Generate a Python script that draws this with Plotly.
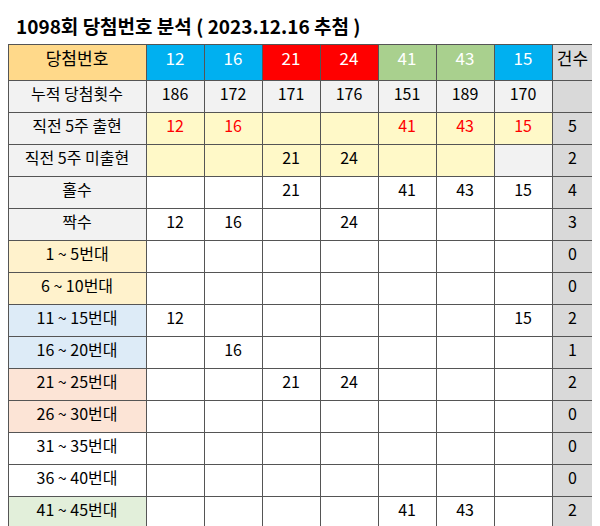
import plotly.graph_objects as go

title = "1098회 당첨번호 분석 ( 2023.12.16 추첨 )"
numbers = [12, 16, 21, 24, 41, 43, 15]
counts = [186, 172, 171, 176, 151, 189, 170]
recent5 = [12, 16, None, None, 41, 43, 15]
not_recent5 = [None, None, 21, 24, None, None, None]
odd = [None, None, 21, None, 41, 43, 15]
even = [12, 16, None, 24, None, None, None]
ranges = ["1 ~ 5번대", "6 ~ 10번대", "11 ~ 15번대", "16 ~ 20번대", "21 ~ 25번대",
          "26 ~ 30번대", "31 ~ 35번대", "36 ~ 40번대", "41 ~ 45번대"]
range_totals = [0, 0, 2, 1, 2, 0, 0, 0, 2]
row_labels = ["누적 당첨횟수", "직전 5주 출현", "직전 5주 미출현", "홀수", "짝수"] + ranges
row_totals = ["", 5, 2, 4, 3] + range_totals

head_colors = ["#00b0f0", "#00b0f0", "#ff0000", "#ff0000", "#a9d08e", "#a9d08e", "#00b0f0"]
label_fill = ["#f2f2f2"] * 5 + ["#fff2cc", "#fff2cc", "#ddebf7", "#ddebf7",
                                 "#fce4d6", "#fce4d6", "#ffffff", "#ffffff", "#e2efda"]

def fmt(v):
    return "" if v is None else str(v)

cols = [row_labels]
fills = [label_fill]
fcolors = [["#000000"] * len(row_labels)]
for i, n in enumerate(numbers):
    vals = [str(counts[i]), fmt(recent5[i]), fmt(not_recent5[i]), fmt(odd[i]), fmt(even[i])]
    for k in range(9):
        vals.append(str(n) if k * 5 < n <= k * 5 + 5 else "")
    cols.append(vals)
    yellow2 = "#fff9c8" if i < 6 else "#f2f2f2"
    fills.append(["#f2f2f2", "#fff9c8", yellow2] + ["#ffffff"] * 11)
    fcolors.append(["#000000", "#ff0000"] + ["#000000"] * 12)
cols.append([str(v) for v in row_totals])
fills.append(["#d9d9d9"] * len(row_labels))
fcolors.append(["#000000"] * len(row_labels))

fig = go.Figure(go.Table(
    domain=dict(x=[0, 585 / 600], y=[0, 1 - 36 / 526]),
    columnwidth=[138] + [58] * 7 + [41],
    header=dict(
        values=["당첨번호"] + [str(n) for n in numbers] + ["건수"],
        fill_color=["#ffd98a"] + head_colors + ["#d9d9d9"],
        font=dict(color=["#000000"] + ["#ffffff"] * 7 + ["#000000"], size=17,
                  family="Noto Sans CJK KR"),
        align="center", height=36, line=dict(color="#555555", width=1),
    ),
    cells=dict(
        values=cols, fill_color=fills,
        font=dict(color=fcolors, size=16, family="Noto Sans CJK KR"),
        align="center", height=32, line=dict(color="#555555", width=1),
    ),
))
fig.update_layout(
    width=600, height=526, margin=dict(l=0, r=0, t=0, b=0),
    paper_bgcolor="white",
    annotations=[dict(text="<b>" + title + "</b>", x=6 / 600, y=1 - 2 / 526,
                      xref="paper", yref="paper", xanchor="left", yanchor="top",
                      showarrow=False, font=dict(size=19, color="#000",
                                                 family="Noto Sans CJK KR"))],
)
fig.write_html("out.html")
